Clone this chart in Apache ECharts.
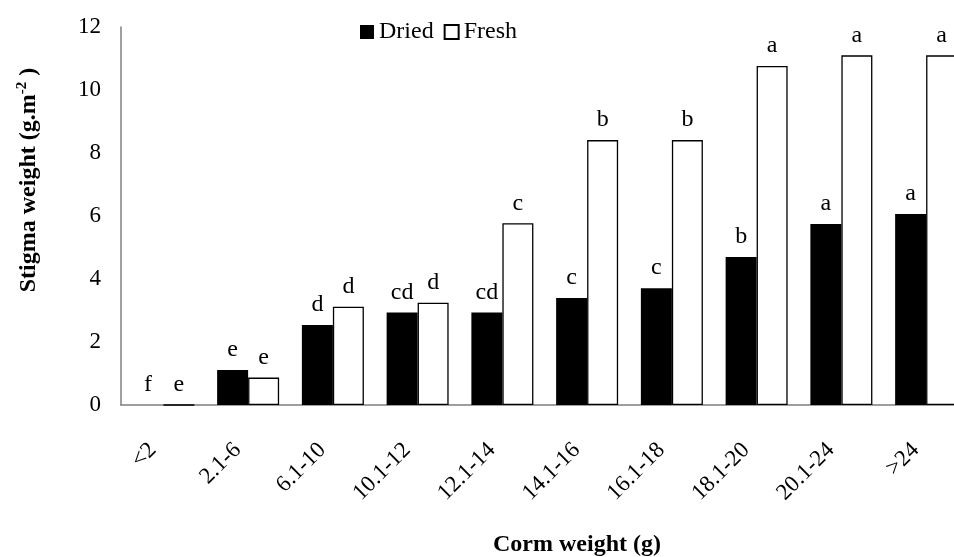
<!DOCTYPE html>
<html><head><meta charset="utf-8">
<script src="https://cdn.jsdelivr.net/npm/echarts@6/dist/echarts.min.js"></script>
<style>html,body{margin:0;padding:0;background:#fff}#c{width:954px;height:557px}</style>
</head><body><div id="c"></div>
<script>
const categories = ['<2','2.1-6','6.1-10','10.1-12','12.1-14','14.1-16','16.1-18','18.1-20','20.1-24','>24'];
const dried = [0, 1.11, 2.54, 2.94, 2.94, 3.40, 3.71, 4.70, 5.75, 6.06];
const fresh = [0, 0.87, 3.12, 3.25, 5.77, 8.41, 8.41, 10.76, 11.10, 11.10];
const driedLetters = ['f','e','d','cd','cd','c','c','b','a','a'];
const freshLetters = ['e','e','d','d','c','b','b','a','a','a'];
const yTicks = [0, 2, 4, 6, 8, 10, 12];

const FONT = "'Liberation Serif', 'Times New Roman', serif";
const FS = 23;
const chart = echarts.init(document.getElementById('c'));
chart.setOption({
  animation: false,
  backgroundColor: '#fff',
  textStyle: { fontFamily: FONT, color: '#000' },
  grid: { left: 121, top: 27, width: 847.5, height: 378, outerBoundsMode: 'none', containLabel: false },
  legend: {
    left: 355, top: 15,
    itemWidth: 14, itemHeight: 14, itemGap: 10,
    icon: 'rect',
    textStyle: { fontFamily: FONT, fontSize: FS + 1, color: '#000' },
    data: ['Dried', 'Fresh']
  },
  xAxis: {
    type: 'category', data: categories,
    axisLine: { lineStyle: { color: '#7f7f7f', width: 1.5 } },
    axisTick: { show: false },
    axisLabel: { rotate: 45, margin: 31, padding: [0, 15, 11, 0], fontFamily: FONT, fontSize: FS, color: '#000', interval: 0 }
  },
  yAxis: {
    type: 'value', min: yTicks[0], max: yTicks[yTicks.length - 1], interval: 2,
    axisLine: { show: true, lineStyle: { color: '#7f7f7f', width: 1.5 } },
    axisTick: { show: false },
    splitLine: { show: false },
    axisLabel: { margin: 20, fontFamily: FONT, fontSize: FS, color: '#000' }
  },
  series: [
    {
      name: 'Dried', type: 'bar', data: dried, barWidth: 31, barGap: '0%',
      itemStyle: { color: '#000' },
      label: { show: true, position: 'top', distance: 8, fontFamily: FONT, fontSize: FS + 1, color: '#000',
        formatter: p => driedLetters[p.dataIndex] }
    },
    {
      name: 'Fresh', type: 'bar', data: fresh, barWidth: 31,
      itemStyle: { color: '#fff', borderColor: '#000', borderWidth: 1.3 },
      label: { show: true, position: 'top', distance: 8, fontFamily: FONT, fontSize: FS + 1, color: '#000',
        formatter: p => freshLetters[p.dataIndex] }
    }
  ],
  graphic: [
    {
      type: 'text', x: 577, y: 545,
      style: { text: 'Corm weight (g)', fontFamily: FONT, fontSize: 24, fontWeight: 'bold', fill: '#000',
        align: 'center', verticalAlign: 'middle' }
    },
    {
      type: 'text', rotation: Math.PI / 2, x: 28, y: 180,
      style: {
        text: '{m|Stigma weight (g.m}{s|-2}{m|)}',
        fontFamily: FONT, fill: '#000', align: 'center', verticalAlign: 'middle',
        rich: {
          m: { fontFamily: FONT, fontSize: 24, fontWeight: 'bold', fill: '#000', lineHeight: 26, verticalAlign: 'bottom' },
          s: { fontFamily: FONT, fontSize: 15, fontWeight: 'bold', fill: '#000', lineHeight: 26, verticalAlign: 'top', padding: [0, 6, 0, 0] }
        }
      }
    }
  ]
});
</script></body></html>
